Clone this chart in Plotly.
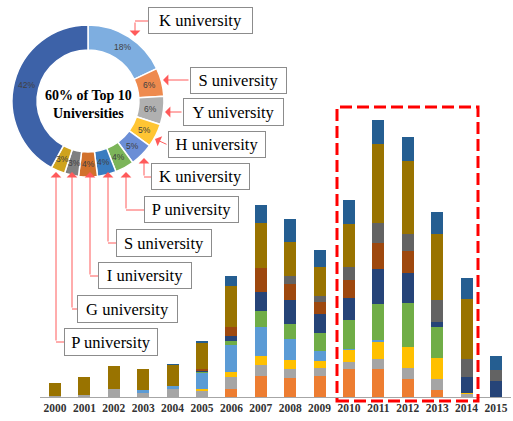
import math
import plotly.graph_objects as go

# ---------------- data ----------------
years = [str(y) for y in range(2000, 2016)]

s_orange    = [0, 0, 0, 0, 0, 0, 7.7, 21, 19, 21, 28, 28, 18, 7.3, 0, 0]
s_gray      = [1, 2, 8, 4.3, 7.7, 6, 12, 11, 8.7, 7.7, 7.3, 10, 11, 11, 3, 0]
s_yellow    = [0, 0, 0, 0, 0, 1.7, 5.6, 9.3, 9.3, 7.7, 11.7, 17.6, 20.7, 20.3, 1.3, 0]
s_lightblue = [0, 0, 0, 2.7, 3.6, 16.8, 26.7, 29, 21, 10, 1, 1, 0, 0, 0, 0]
s_green     = [0, 0, 0, 0, 0, 1.2, 4, 16, 14.7, 18, 28.7, 36.3, 44.7, 31.7, 0, 0]
s_navy      = [0, 0, 0, 0, 0, 1.2, 5.3, 18.3, 24, 18.7, 22.3, 35.3, 29.3, 5, 15.7, 16]
s_brown     = [0, 0, 0, 0, 0, 1.3, 9, 24, 16, 11.7, 17.7, 25.7, 22.7, 0, 0, 0]
s_darkgray  = [0, 0, 0, 0, 0, 0, 0, 0, 8, 6.3, 13.7, 20, 17, 22, 18.3, 11]
s_darkgold  = [13, 18.5, 23.3, 21, 20.7, 26, 40.7, 45, 34.7, 29, 43, 79.3, 72.3, 65.7, 59.3, 0]
s_steel     = [0, 0, 0, 0, 1, 1, 10, 18.3, 22.7, 16.7, 24, 24, 24.3, 21.7, 21.7, 14]

pie_values = [18, 6, 6, 5, 5, 4, 4, 4, 3, 3, 42]
pie_text = [f"{v}%" for v in pie_values]
uni_names = ["K university", "S university", "Y university", "H university", "K university",
             "P university", "S university", "I university", "G university", "P university"]
center_text = "60% of Top 10<br>Universities"

# ---------------- styling ----------------
W, H = 513, 421
MB = 24
PH = H - MB

series = [
    ("Series 1", s_orange, "#ED7D31"),
    ("Series 2", s_gray, "#A5A5A5"),
    ("Series 3", s_yellow, "#FFC000"),
    ("Series 4", s_lightblue, "#5B9BD5"),
    ("Series 5", s_green, "#70AD47"),
    ("Series 6", s_navy, "#264478"),
    ("Series 7", s_brown, "#9E480E"),
    ("Series 8", s_darkgray, "#636363"),
    ("Series 9", s_darkgold, "#997300"),
    ("Series 10", s_steel, "#255E91"),
]
pie_colors = ["#7EAEE0", "#EE8A4E", "#B0B0B0", "#FFC533", "#6B8ED6", "#7CB55A",
              "#3A7CC0", "#D2712C", "#808080", "#CFA31E", "#3D62A8"]

def px(x):
    return x / W

def py(y):
    return (PH - y) / PH

# donut geometry (px)
PCX, PCY, R_OUT, HOLE = 88, 101, 76, 0.67

fig = go.Figure()
for name, vals, col in series:
    fig.add_trace(go.Bar(x=years, y=vals, name=name, showlegend=False,
                         marker=dict(color=col, line=dict(width=0)), hoverinfo="skip"))

fig.add_trace(go.Pie(
    values=pie_values, textinfo="none", hole=HOLE, sort=False, direction="clockwise",
    rotation=0, showlegend=False, hoverinfo="skip",
    marker=dict(colors=pie_colors, line=dict(color="white", width=1.5)),
    domain=dict(x=[px(PCX - R_OUT), px(PCX + R_OUT)], y=[py(PCY + R_OUT), py(PCY - R_OUT)]),
))

annotations = [dict(x=px(88), y=py(105), xref="paper", yref="paper", text=center_text,
                    showarrow=False, xanchor="center", yanchor="middle",
                    font=dict(family="Liberation Serif", size=14, color="black", weight="bold"))]

# slice percentage labels placed at each slice's mid-angle, mid-ring
total = sum(pie_values)
r_mid = R_OUT * (1 + HOLE) / 2
cum = 0
for v, t in zip(pie_values, pie_text):
    mid = (cum + v / 2) / total * 2 * math.pi
    cum += v
    lx = PCX + r_mid * math.sin(mid)
    ly = PCY - r_mid * math.cos(mid)
    annotations.append(dict(x=px(lx), y=py(ly), xref="paper", yref="paper", text=t,
                            showarrow=False, xanchor="center", yanchor="middle",
                            font=dict(family="Liberation Sans", size=8.5, color="#404040")))

# label boxes: center x, center y, width, height (px)
boxes = [(200.5, 20.5, 105, 27), (238.5, 80.5, 97, 27), (233.5, 112, 101, 28),
         (217, 144.5, 98, 27), (200.5, 176.5, 99, 27), (191.5, 209.5, 95, 27),
         (164, 243, 96, 28), (145, 275.5, 94, 27), (127.5, 309, 101, 28),
         (111, 342, 94, 28)]
# connector polylines (px), last point is the arrow tip
connectors = [
    [(148, 21), (135, 21), (135, 36)],
    [(190, 80), (163, 80)],
    [(183, 112), (165, 112)],
    [(168, 145), (155, 139)],
    [(151, 177), (144, 177), (144, 158)],
    [(144, 210), (126, 210), (126, 172)],
    [(116, 243), (108, 243), (108, 172)],
    [(98, 276), (90, 276), (90, 172)],
    [(77, 309), (72, 309), (72, 172)],
    [(64, 342), (56, 342), (56, 172)],
]

shapes = []
for name, (cx, cy, w, h) in zip(uni_names, boxes):
    annotations.append(dict(x=px(cx), y=py(cy), xref="paper", yref="paper", text=name,
                            showarrow=False, xanchor="center", yanchor="middle",
                            width=w - 4, height=h - 4, borderpad=1, borderwidth=1,
                            bordercolor="#8C8C8C", bgcolor="white", align="center",
                            font=dict(family="Liberation Serif", size=16.5, color="black")))
LINE_COL = "#FF5A5A"
for pts in connectors:
    for (x0, y0), (x1, y1) in zip(pts[:-2], pts[1:-1]):
        shapes.append(dict(type="line", xref="paper", yref="paper", x0=px(x0), y0=py(y0),
                           x1=px(x1), y1=py(y1), line=dict(color=LINE_COL, width=1)))
    (tx, ty), (hx, hy) = pts[-2], pts[-1]
    annotations.append(dict(x=px(hx), y=py(hy), xref="paper", yref="paper", text="",
                            showarrow=True, ax=tx - hx, ay=ty - hy, arrowhead=1,
                            arrowsize=1.8, arrowwidth=1, arrowcolor=LINE_COL, standoff=0))

shapes.append(dict(type="rect", xref="paper", yref="paper", x0=px(337), x1=px(478),
                   y0=py(401), y1=py(107), line=dict(color="#FF0000", width=3, dash="12px,5px")))

fig.update_layout(
    width=W, height=H, margin=dict(l=0, r=0, t=0, b=MB),
    barmode="stack", bargap=0.59,
    plot_bgcolor="white", paper_bgcolor="white",
    xaxis=dict(domain=[px(40.3), px(510.7)], type="category", showline=True,
               linecolor="#A6A6A6", linewidth=1, ticks="", showgrid=False,
               tickfont=dict(family="Liberation Serif", size=11.5, color="#333333", weight="bold")),
    yaxis=dict(range=[0, PH], visible=False),
    annotations=annotations, shapes=shapes,
)

fig.write_html("out.html", config={"displayModeBar": False},
               post_script="document.body.style.margin='0';")
